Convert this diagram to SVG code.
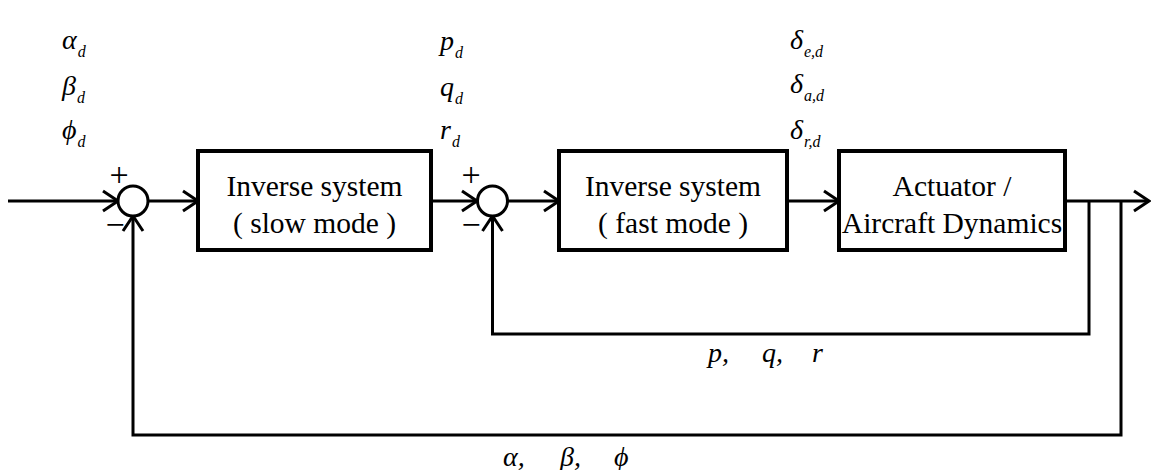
<svg xmlns="http://www.w3.org/2000/svg" width="1151" height="470" viewBox="0 0 1151 470">
<style>
.blk{fill:#fff;stroke:#000;stroke-width:4}
.sum{fill:#fff;stroke:#000;stroke-width:3}
.ln{fill:none;stroke:#000;stroke-width:3}
.bt{font-family:"Liberation Serif","Times New Roman",serif;font-size:29.5px;fill:#000;text-anchor:middle}
.sg{font-family:"Liberation Serif","Times New Roman",serif;font-size:34px;fill:#000;text-anchor:middle}
.v{font-family:"Liberation Serif","Times New Roman",serif;font-style:italic;font-size:28px;fill:#000}
.s{font-size:16px}
</style>
<defs>
<marker id="ah" markerWidth="20" markerHeight="26" refX="17" refY="13" orient="auto" markerUnits="userSpaceOnUse">
<path d="M2,3 L17,13 L2,23" fill="none" stroke="#000" stroke-width="3"/>
</marker>
</defs>
<g id="connectors">
<line class="ln" x1="8" y1="201" x2="118" y2="201" marker-end="url(#ah)"/>
<line class="ln" x1="148" y1="201" x2="198" y2="201" marker-end="url(#ah)"/>
<line class="ln" x1="431" y1="201" x2="477" y2="201" marker-end="url(#ah)"/>
<line class="ln" x1="507" y1="201" x2="559" y2="201" marker-end="url(#ah)"/>
<line class="ln" x1="787" y1="201" x2="839" y2="201" marker-end="url(#ah)"/>
<line class="ln" x1="1065" y1="201" x2="1149" y2="201" marker-end="url(#ah)"/>
<polyline class="ln" points="1089,201 1089,334 492.5,334 492.5,216" marker-end="url(#ah)"/>
<polyline class="ln" points="1121,201 1121,435 133,435 133,216" marker-end="url(#ah)"/>
</g>
<g id="sum1">
<circle class="sum" cx="133" cy="201" r="15"/>
<text class="sg" x="119" y="186">+</text>
<text class="sg" x="115" y="236">−</text>
</g>
<g id="sum2">
<circle class="sum" cx="492.5" cy="201" r="15"/>
<text class="sg" x="471" y="186">+</text>
<text class="sg" x="471" y="236">−</text>
</g>
<g id="slow">
<rect class="blk" x="198" y="151" width="233" height="99"/>
<text class="bt" x="314.5" y="196">Inverse system</text>
<text class="bt" x="314.5" y="233">( slow mode )</text>
</g>
<g id="fast">
<rect class="blk" x="559" y="151" width="228" height="99"/>
<text class="bt" x="673" y="196">Inverse system</text>
<text class="bt" x="673" y="233">( fast mode )</text>
</g>
<g id="plant">
<rect class="blk" x="839" y="151" width="226" height="99"/>
<text class="bt" x="952" y="196">Actuator /</text>
<text class="bt" x="952" y="233">Aircraft Dynamics</text>
</g>
<g id="labels">
<text class="v" x="62" y="49">α<tspan class="s" dx="1" dy="8">d</tspan></text>
<text class="v" x="62" y="95">β<tspan class="s" dx="1" dy="8">d</tspan></text>
<text class="v" x="62" y="139">ϕ<tspan class="s" dx="1" dy="8">d</tspan></text>
<text class="v" x="440" y="50">p<tspan class="s" dx="1" dy="8">d</tspan></text>
<text class="v" x="440" y="96">q<tspan class="s" dx="1" dy="8">d</tspan></text>
<text class="v" x="440" y="139">r<tspan class="s" dx="1" dy="8">d</tspan></text>
<text class="v" x="790" y="49">δ<tspan class="s" dx="1" dy="8">e,d</tspan></text>
<text class="v" x="790" y="93">δ<tspan class="s" dx="1" dy="8">a,d</tspan></text>
<text class="v" x="790" y="139">δ<tspan class="s" dx="1" dy="8">r,d</tspan></text>
<text class="v" x="708" y="362">p,</text>
<text class="v" x="762" y="362">q,</text>
<text class="v" x="812" y="362">r</text>
<text class="v" x="503" y="466">α,</text>
<text class="v" x="560" y="466">β,</text>
<text class="v" x="614" y="466">ϕ</text>
</g>
</svg>
